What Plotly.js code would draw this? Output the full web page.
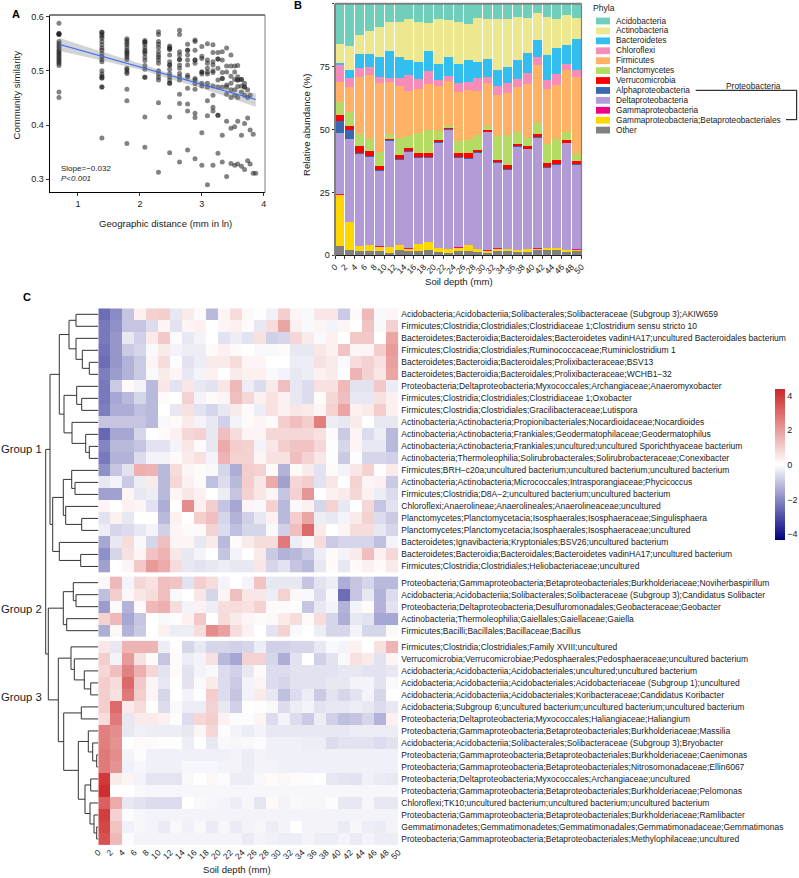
<!DOCTYPE html>
<html><head><meta charset="utf-8">
<script src="https://cdn.plot.ly/plotly-3.0.1.min.js"></script>
<style>html,body{margin:0;padding:0;background:#fff}#c{width:799px;height:878px}</style>
</head><body><div id="c"></div>
<script>
// ---------- Panel A data ----------
const distanceX=[0.693,1.386,1.79,2.08,2.30,2.48,2.64,2.77,2.89,3.0,3.09,3.18,3.26,3.33,3.40,3.47,3.53,3.58,3.64,3.69,3.74,3.78,3.83,3.87];
const similarityY=[
[.588,.569,.569,.567,.567,.554,.55,.546,.542,.538,.535,.532,.529,.526,.523,.52,.517,.514,.51,.461,.451],
[.571,.571,.567,.564,.56,.554,.548,.542,.538,.532,.526,.521,.517,.5,.494,.49,.487,.487,.47,.47,.376],
[.559,.556,.552,.548,.543,.538,.535,.532,.529,.525,.521,.505,.502,.498,.495,.466,.445,.366],
[.556,.553,.553,.549,.543,.538,.535,.532,.525,.519,.51,.503,.488,.488,.415,.359],
[.572,.567,.554,.549,.543,.535,.529,.525,.52,.514,.5,.494,.488,.483,.441,.313],
[.546,.543,.54,.54,.529,.517,.511,.511,.503,.495,.489,.483,.477,.477,.415,.349],
[.575,.567,.535,.529,.521,.521,.511,.505,.495,.489,.483,.457,.44,.332],
[.549,.538,.538,.529,.52,.511,.492,.488,.468,.439,.426,.354],
[.557,.554,.538,.52,.52,.514,.486,.483,.476,.466,.422,.414,.338],
[.545,.527,.523,.498,.498,.494,.477,.472,.386,.326],
[.55,.52,.514,.505,.498,.494,.477,.47,.445,.417,.29],
[.548,.534,.517,.511,.5,.497,.472,.455,.433,.426,.326],
[.534,.522,.522,.505,.483,.47,.418,.418,.348],
[.535,.52,.497,.486,.486,.47,.381,.332],
[.542,.509,.498,.474,.47,.457,.407,.305],
[.529,.509,.49,.477,.465,.451,.394,.329],
[.509,.498,.484,.465,.455,.397,.326],
[.51,.489,.483,.483,.471,.451,.407,.328],
[.484,.484,.472,.461,.381,.324],
[.477,.47,.47,.455,.403,.318],
[.465,.451,.413,.334],
[.455,.391,.328],
[.383,.311],
[.311]];
const fitX=[0.693,3.87];
const fitY=[.549,.447];
const bandX=[0.693,1.386,2.08,2.48,3.0,3.47,3.87];
const bandHi=[.561,.535,.511,.495,.481,.468,.458];
const bandLo=[.537,.519,.500,.485,.468,.450,.434];
// ---------- Panel B data: top edge of each stacked band, per bar ----------
const depthTicks=[0,2,4,6,8,10,12,14,16,18,20,22,24,26,28,30,32,34,36,38,40,42,44,46,48,50];
const barX=[1,3,5,7,9,11,13,15,17,19,21,23,25,27,29,31,33,35,37,39,41,43,45,47,49];
const topOther=[3.8,2.1,1.7,1.7,1.6,.9,2,1.9,1.7,2,1.3,.9,1.9,1.7,1.5,.9,1.7,1.7,1.3,1.5,2.3,2,2,1.3,1.6];
const topGammaBeta=[24,13.1,3.7,4.1,3.3,3.2,4.1,2.6,4.5,5.3,2.9,2.4,3,4,2.4,1.9,2.6,2.4,2.1,2.4,2.6,2.9,2.8,2,2.3];
const topGamma=[24.5,13.4,3.85,4.2,3.6,3.3,4.2,2.8,4.6,5.4,3,2.6,3.3,4.1,2.5,2,2.8,2.5,2.3,2.5,2.8,3,2.9,2.1,2.4];
const topDelta=[48.7,46.2,40.1,39.2,33.4,45.3,38,41.1,38.8,38.5,44.8,49.9,38.8,38.4,40.8,48.9,36.6,34,43,42.1,46.8,34.8,36,44.5,35.9];
const topAlpha=[53.4,49.8,40.8,39.6,33.8,45.7,38.3,41.3,39.2,38.9,45,50.2,39.1,38.7,41.1,49.1,37,34.3,43.4,42.4,47,35.2,36.3,44.8,36.2];
const topVerruco=[55.9,51.5,43.4,41.3,35.4,46.4,39.9,42.5,40.5,40.8,45.8,50.7,40.7,40.5,42,49.8,37.9,35.8,44.2,43.6,48.1,36.8,37.9,45.8,37.5];
const topPlancto=[61,57,48.2,46.4,41.1,48.2,46.8,47.5,48.7,49.8,49.3,51.5,45.6,46,47.7,51.4,47.5,47.8,49,46.8,52.7,44.4,46.4,49.1,40.4];
const topFirmi=[68.9,66.9,70.9,71.7,68.3,68.9,67.2,65.4,66.2,68.1,67.3,69.1,64.8,65.7,65.3,68.5,63.6,64.5,66.9,68.2,75.6,66.2,67.7,73.8,70.7];
const topChloro=[75.5,70.6,74.6,74.7,71,70.5,70.6,71.5,70.2,73.2,69.8,71.1,68.3,68.9,70.3,70.7,67.3,68.3,69.9,72.3,78.7,69.7,72.2,76,73.8];
const topBactero=[76.4,73.5,80.1,80.1,78.9,81.3,78.9,77.6,76.7,81.2,75.9,78.9,75.9,77.5,76.7,77.9,73.8,74.8,77.6,80.4,85.7,79.6,82.3,83.7,86];
const topActino=[84.1,83.2,87.5,89.1,90.9,92.6,92.8,93.9,92.8,92.5,93.8,93.5,92.8,91.9,94.2,94,93.9,93.9,94.7,94.3,96.3,94.8,93.9,95.6,94.4];
const topAcido=barX.map(()=>100);
const legendNames=["Acidobacteria","Actinobacteria","Bacteroidetes","Chloroflexi","Firmicutes","Planctomycetes","Verrucomicrobia","Alphaproteobacteria","Deltaproteobacteria","Gammaproteobacteria","Gammaproteobacteria;Betaproteobacteriales","Other"];
const legendColors=["#6FCFBB","#EDE88F","#33BEF0","#F78CB8","#FFB266","#B4DC64","#FF0000","#3A68AE","#B39BD8","#F0047F","#FFD700","#808080"];
// ---------- Panel C data ----------
const group1Labels=["Acidobacteria;Acidobacteriia;Solibacterales;Solibacteraceae (Subgroup 3);AKIW659","Firmicutes;Clostridia;Clostridiales;Clostridiaceae 1;Clostridium sensu stricto 10","Bacteroidetes;Bacteroidia;Bacteroidales;Bacteroidetes vadinHA17;uncultured Bacteroidales bacterium","Firmicutes;Clostridia;Clostridiales;Ruminococcaceae;Ruminiclostridium 1","Bacteroidetes;Bacteroidia;Bacteroidales;Prolixibacteraceae;BSV13","Bacteroidetes;Bacteroidia;Bacteroidales;Prolixibacteraceae;WCHB1\u221232","Proteobacteria;Deltaproteobacteria;Myxococcales;Archangiaceae;Anaeromyxobacter","Firmicutes;Clostridia;Clostridiales;Clostridiaceae 1;Oxobacter","Firmicutes;Clostridia;Clostridiales;Gracilibacteraceae;Lutispora","Actinobacteria;Actinobacteria;Propionibacteriales;Nocardioidaceae;Nocardioides","Actinobacteria;Actinobacteria;Frankiales;Geodermatophilaceae;Geodermatophilus","Actinobacteria;Actinobacteria;Frankiales;uncultured;uncultured Sporichthyaceae bacterium","Actinobacteria;Thermoleophilia;Solirubrobacterales;Solirubrobacteraceae;Conexibacter","Firmicutes;BRH\u2212c20a;uncultured bacterium;uncultured bacterium;uncultured bacterium","Actinobacteria;Actinobacteria;Micrococcales;Intrasporangiaceae;Phycicoccus","Firmicutes;Clostridia;D8A\u22122;uncultured bacterium;uncultured bacterium","Chloroflexi;Anaerolineae;Anaerolineales;Anaerolineaceae;uncultured","Planctomycetes;Planctomycetacia;Isosphaerales;Isosphaeraceae;Singulisphaera","Planctomycetes;Planctomycetacia;Isosphaerales;Isosphaeraceae;uncultured","Bacteroidetes;Ignavibacteria;Kryptoniales;BSV26;uncultured bacterium","Bacteroidetes;Bacteroidia;Bacteroidales;Bacteroidetes vadinHA17;uncultured bacterium","Firmicutes;Clostridia;Clostridiales;Heliobacteriaceae;uncultured"];
const group2Labels=["Proteobacteria;Gammaproteobacteria;Betaproteobacteriales;Burkholderiaceae;Noviherbaspirillum","Acidobacteria;Acidobacteriia;Solibacterales;Solibacteraceae (Subgroup 3);Candidatus Solibacter","Proteobacteria;Deltaproteobacteria;Desulfuromonadales;Geobacteraceae;Geobacter","Actinobacteria;Thermoleophilia;Gaiellales;Gaiellaceae;Gaiella","Firmicutes;Bacilli;Bacillales;Bacillaceae;Bacillus"];
const group3Labels=["Firmicutes;Clostridia;Clostridiales;Family XVIII;uncultured","Verrucomicrobia;Verrucomicrobiae;Pedosphaerales;Pedosphaeraceae;uncultured bacterium","Acidobacteria;Acidobacteriia;Acidobacteriales;uncultured;uncultured bacterium","Acidobacteria;Acidobacteriia;Acidobacteriales;Acidobacteriaceae (Subgroup 1);uncultured","Acidobacteria;Acidobacteriia;Acidobacteriales;Koribacteraceae;Candidatus Koribacter","Acidobacteria;Subgroup 6;uncultured bacterium;uncultured bacterium;uncultured bacterium","Proteobacteria;Deltaproteobacteria;Myxococcales;Haliangiaceae;Haliangium","Proteobacteria;Gammaproteobacteria;Betaproteobacteriales;Burkholderiaceae;Massilia","Acidobacteria;Acidobacteriia;Solibacterales;Solibacteraceae (Subgroup 3);Bryobacter","Proteobacteria;Gammaproteobacteria;Betaproteobacteriales;Burkholderiaceae;Caenimonas","Proteobacteria;Gammaproteobacteria;Betaproteobacteriales;Nitrosomonadaceae;Ellin6067","Proteobacteria;Deltaproteobacteria;Myxococcales;Archangiaceae;uncultured","Proteobacteria;Gammaproteobacteria;Betaproteobacteriales;Burkholderiaceae;Pelomonas","Chloroflexi;TK10;uncultured bacterium;uncultured bacterium;uncultured bacterium","Proteobacteria;Gammaproteobacteria;Betaproteobacteriales;Burkholderiaceae;Ramlibacter","Gemmatimonadetes;Gemmatimonadetes;Gemmatimonadales;Gemmatimonadaceae;Gemmatimonas","Proteobacteria;Gammaproteobacteria;Betaproteobacteriales;Methylophilaceae;uncultured"];
const group1Z=[
[-2.5,-2,-1,.3,.9,1,-.4,.4,.1,-1.2,.2,.7,.15,.05,-.25,1,.2,-.1,.5,.5,-.9,.1,1.4,-.1,.2],
[-2.3,-1.9,-1,-1,-.6,.2,-.5,.2,.3,0,.2,.3,.1,-.4,.7,1.8,.3,-.1,.2,-.2,.2,0,1.2,-.1,.9],
[-2.3,-1.8,-.4,-.8,.4,1.1,.1,-.4,-.2,0,-.5,-.3,-.5,.6,-.8,-.7,.8,.4,-.1,.3,0,1.1,1.1,0,1.8],
[-2.4,-1.8,-.9,-.7,-.1,.4,-.2,-.3,-.3,.1,.3,.1,0,-.1,-.1,.1,-.4,-.4,.5,.3,1.2,.2,.2,1.0,2.0],
[-2.5,-1.8,-1.3,-.9,.2,.7,.05,-.5,-.3,.4,.4,.7,.2,.2,0,0,-.3,-.3,.6,.4,-.1,.7,.9,.6,1.9],
[-2.2,-1.7,-1.3,-.9,-.1,.4,.2,-.4,-.2,.3,0,.4,.3,.3,-.1,-.2,-.4,-.3,.3,.4,0,1.5,.9,.5,1.8],
[-2.3,-.9,.1,-.2,-1.2,.5,-.5,.5,-.4,-.5,.5,1.4,-.3,-.6,.4,1.3,-.4,-.6,.6,.6,1.4,-.5,-.5,1.1,-.3],
[-2.3,-1.5,-1.2,-.7,-1.2,.1,0,.9,-.2,.1,.2,1.3,.8,.3,.6,.3,-.4,-.6,.1,.8,1.3,-.4,-.4,.6,.3],
[-2.2,-1.4,-1.4,-1.1,-1.2,0,-.4,.6,-.5,-.7,-.4,.4,.1,-.3,.6,.3,.5,.4,.2,.9,1.8,.3,.4,1,.3],
[-1,-1,-1,-1,-1.2,-.1,.1,.4,-.2,-.4,-.8,-.2,.1,.2,.1,1,1.3,1,2.6,-.3,-.4,.4,0,-.4,-.4],
[-2.6,-1.5,-1.5,-.7,0,.1,.3,.8,.9,-.4,1.3,.7,.2,.2,.8,.8,.8,.8,.6,.1,-.9,.2,-.6,-.3,-1.2],
[-2.1,-1.2,-1.2,-1,-.5,-.5,-.2,.5,.1,-.4,1.7,1,.9,-.2,.5,1,1.2,1.2,.8,.05,-.7,.2,-.4,-.4,-1.2],
[-2.3,-1.3,-1.3,-.6,-.2,-.2,.1,.4,.6,-.2,1.5,.9,.9,.2,.6,.6,1.3,.9,.5,.05,-.9,.05,-.7,-.7,-.8],
[-1.9,-1,-.5,1.6,1.5,-1.2,.7,.2,.1,-.1,-.7,-1.4,1,.9,.1,-1.3,.1,.4,-.5,.1,-.2,.5,.9,.05,.4],
[-.4,-.2,-.9,-.3,.4,-1.2,.8,.3,.1,-1.1,-.6,-1.2,1,.5,1.7,-1.6,.8,1,-.5,.5,.05,.9,.2,.3,-.9],
[-1.6,-1.6,.2,-.4,-.3,-1.2,.2,.5,.3,0,-.3,-1,.9,.5,.2,-1,.9,2.1,0,.3,.4,.8,.3,-.3,-.6],
[.2,0,.3,.2,-.5,-1.4,0,2.3,.3,1,-1,-1.5,.2,-.1,.9,-1.2,-.1,.3,-.7,.9,-.4,0,.8,-1,-.5],
[-.5,.3,-.4,0,0,-1.2,.3,0,1,1.3,-.7,-1.3,-.8,-.4,.3,-1.2,1,1.8,-.3,-.4,-.2,.4,.9,-.6,-.9],
[-.3,-.7,-.6,-.4,-.2,-.8,.2,.1,.1,.9,-.6,-1.1,-.7,-.7,-.1,-.8,1.3,3,.4,0,.2,.7,.7,-.4,-.7],
[-1.5,-.4,.7,-.1,-.7,1.3,.2,.2,-.4,.4,-1.2,.1,.4,.7,.7,2.7,-.3,-.1,.7,-.9,-.7,-.7,-.7,-1.1,-.2],
[-1.9,-.7,.6,.2,1.2,1.5,.5,-.4,-.2,0,-1,-.2,0,.4,-.9,-1.3,-1.2,-.9,-.3,.1,-.2,.4,1.3,.3,.8],
[-1.6,0,.2,1.1,2,1.7,.7,-.4,-.5,-.4,-.3,-.4,-.4,.5,-.7,-.5,-1,-1.2,-.4,.1,-.4,.1,.3,.1,.4]];
const group2Z=[
[.15,1.4,-.2,.8,.6,1.3,1.2,-.5,1,.7,-.2,0,-.2,1.2,-.4,-.4,-.4,-1,-.5,-.3,-1.4,-1,-.7,-1.2,-1.2],
[-1.1,1,.15,.5,.7,1.3,-.1,0,.5,-.7,.2,1.3,.5,.5,-.3,.9,.15,-.1,-.6,-.1,-2.5,-1,-.4,-1.3,-.6],
[-1.7,.1,-1.3,.1,1.4,1.6,.7,-.2,.3,-.3,.7,.7,.6,.9,.1,.1,.05,-1,-.4,-.2,-1.3,-.2,.1,-1.3,-.5],
[.9,1.4,-1.5,-1,0,-.1,-.05,.3,1.1,0,.7,.4,.2,.1,.15,.4,.7,.1,.7,-.7,-1.4,-.4,-.5,-1.5,-1.5],
[-1.4,.15,-1.3,-.9,0,.3,-.3,-.3,.7,2.3,1.9,.7,.3,0,-.5,.9,-.1,0,-.3,-.7,-.7,-.2,-.7,-.7,.15]];
const group3Z=[
[.5,-.4,1.5,1.5,1.5,-.3,.05,-.7,-.4,-.7,-.7,-.8,-.7,-.3,-.8,-.8,-.7,-.7,-.4,-.1,-.2,.3,0,.6,1.5],
[1,-.2,2,.6,.1,-1,.1,-.3,-.2,.6,-1.2,-1.5,.9,.9,-.7,-1.4,-.5,0,-.8,-.5,-.1,.6,.4,-.5,.2],
[.8,1.3,2.5,1.6,.8,-.5,.1,-.5,-.2,-.1,-.6,-.8,-.4,.1,-.6,-.6,-.5,-.5,-.5,-.5,-.4,-.4,-.5,-.5,-.4],
[1,.7,3,1.1,.2,-.4,0,-.5,-.1,.4,-.6,-.9,-.2,.2,-.6,-.7,-.5,-.5,-.5,-.4,-.4,-.2,-.2,-.5,-.1],
[1,.6,2.7,1,.2,-.7,0,-.2,0,1,-.6,-1,-.2,.4,-.4,-1.1,-.6,-.3,-.9,-.5,-.7,-.5,-.2,-.7,0],
[1,3,.4,.7,0,-.6,-.1,-.3,-.3,.9,-.4,-.8,0,.05,-.1,-.6,-.3,-.2,-.5,-.4,-.4,-.3,-.4,-.6,-.4],
[.7,2.7,-.4,.4,.4,.3,.05,-.6,.8,1,.3,-.05,-.05,.2,-.6,-.2,-.6,-.9,-.3,-.8,-1.1,-1,-.7,-1.3,.3],
[2.6,2.3,-.4,-.25,-.3,-.3,-.3,-.4,.2,.8,.05,-.2,-.3,-.2,-.4,-.4,-.4,-.4,-.4,-.4,-.4,-.3,-.3,-.3,-.3],
[2.6,2.2,.02,.1,.1,.05,.05,-.3,0,-.4,-.1,-.15,-.1,-.05,-.25,-.25,-.25,-.3,-.3,-.6,-.5,-.5,-.5,-.6,-.5],
[2.7,2.3,-.2,-.05,-.25,-.25,-.25,-.25,-.25,-.25,-.25,-.2,-.3,-.2,-.25,-.25,-.25,-.25,-.25,-.25,-.25,-.25,-.25,-.25,-.25],
[2.7,2.2,-.25,-.15,-.25,-.25,-.25,-.15,-.15,-.15,-.2,-.2,-.3,-.2,-.2,-.25,-.25,-.25,-.25,-.25,-.25,-.25,-.25,-.25,-.25],
[4,.4,.25,-.2,-.45,-.45,-.45,-.1,0,.15,-.05,-.3,-.3,-.1,.1,.15,.1,-.05,0,-.4,-.45,-.5,-.25,-.35,-.4],
[4.2,0,0,-.1,-.15,-.15,-.15,-.15,-.15,-.15,-.15,-.15,-.15,-.15,-.15,-.15,-.15,-.15,-.15,-.15,-.15,-.15,-.15,-.15,-.15],
[3.2,1.7,-.4,-.5,-.6,-.6,-.6,0,-.1,-.15,-.2,-.3,-.15,-.45,.1,-.2,-.1,-.15,-.15,-.05,-.4,-.4,-.15,-.4,-.4],
[3.9,.9,-.05,-.15,-.2,-.2,-.2,-.2,-.2,-.2,-.2,-.2,-.2,-.2,-.2,-.2,-.2,-.2,-.2,-.2,-.2,-.2,-.2,-.2,-.2],
[3.7,1.2,-.25,-.15,-.2,-.35,-.1,-.25,-.1,-.35,-.15,-.35,-.2,-.15,-.3,-.2,0,-.2,-.2,-.2,-.35,-.15,-.3,-.35,-.2],
[3.5,1.4,-.05,-.2,-.2,-.2,-.2,-.2,-.2,-.2,-.2,-.2,-.35,-.2,-.25,-.3,-.3,-.2,-.3,-.3,-.2,-.35,-.2,-.3,-.3]];
// Dendrogram: [merge height, left child, right child]; 0 = next leaf row in order
const dendroTree=[52.6,
 [48.3,
  [39,[29.3,[22.3,0,0],[22.3,0,[16,0,[9,0,0]]]],
      [34.3,[21.6,0,[16.6,0,0]],[26.3,0,[12.6,0,[9,0,0]]]]],
  [45.6,[35,[26.6,0,[23.3,0,0]],[32.6,0,[16.6,0,0]]],[39,0,[17.6,0,0]]]],
 [50,
  [35,[25,0,[22.3,0,0]],[31.6,0,0]],
  [40,[27.3,0,[24,0,[14,0,[7.6,0,0]]]],
      [34.6,[17,0,0],[20,[10,0,[5.6,0,[1.6,0,0]]],[13.3,[7.6,0,0],[8.3,0,[4.3,0,[1.6,0,0]]]]]]]]];
const heatMax=4.36;
const colorTicks=[-4,-2,0,2,4];
const colorTickText=["\u22124","\u22122","0","2","4"];

// ---------- helpers ----------
const W=799,H=878, FONT='"Liberation Sans",Arial,sans-serif', INK='#1a1a1a';
const px=v=>v/W, py=v=>1-v/H;
const diff=(a,b)=>a.map((v,i)=>+(v-(b?b[i]:0)).toFixed(2));
const ann=(x,y,text,o={})=>Object.assign({xref:'paper',yref:'paper',x:px(x),y:py(y),text,showarrow:false,xanchor:'left',yanchor:'middle',borderpad:0,borderwidth:0,font:{family:FONT,size:8.5,color:INK}},o);
const seg=(x0,y0,x1,y1,color='#000',width=1)=>({type:'line',xref:'paper',yref:'paper',x0:px(x0),x1:px(x1),y0:py(y0),y1:py(y1),line:{color,width},layer:'above'});

const traces=[];
// --- Panel A
traces.push({type:'scatter',mode:'markers',xaxis:'x',yaxis:'y',showlegend:false,
  x:distanceX.flatMap((d,i)=>similarityY[i].map(()=>d)),y:similarityY.flat(),
  marker:{size:5,color:'rgba(30,30,30,0.55)',line:{width:0}}});
traces.push({type:'scatter',mode:'lines',xaxis:'x',yaxis:'y',showlegend:false,
  x:bandX.concat(bandX.slice().reverse()),y:bandHi.concat(bandLo.slice().reverse()),
  fill:'toself',fillcolor:'rgba(120,120,120,0.33)',line:{width:0}});
traces.push({type:'scatter',mode:'lines',xaxis:'x',yaxis:'y',showlegend:false,x:fitX,y:fitY,line:{color:'#3366FF',width:1.1}});
// --- Panel B (stack bottom to top)
const stack=[[topOther,null,11],[topGammaBeta,topOther,10],[topGamma,topGammaBeta,9],[topDelta,topGamma,8],[topAlpha,topDelta,7],[topVerruco,topAlpha,6],[topPlancto,topVerruco,5],[topFirmi,topPlancto,4],[topChloro,topFirmi,3],[topBactero,topChloro,2],[topActino,topBactero,1],[topAcido,topActino,0]];
stack.forEach(([t,b,k])=>traces.push({type:'bar',xaxis:'x2',yaxis:'y2',x:barX,y:diff(t,b),name:legendNames[k],marker:{color:legendColors[k],line:{width:0}},showlegend:false}));
// --- Panel C
const gap=0.35;
const rowY=[];
[group1Z,group2Z,group3Z].reduce((off,g)=>{g.forEach((_,i)=>rowY.push(off+i+.5));return off+g.length+gap;},0);
const allLabels=group1Labels.concat(group2Labels,group3Labels);
let start=0;
[group1Z,group2Z,group3Z].forEach(g=>{
  traces.push({type:'heatmap',xaxis:'x3',yaxis:'y3',x:barX,y:rowY.slice(start,start+g.length),z:g,coloraxis:'coloraxis',hoverongaps:false,xgap:0,ygap:0});
  start+=g.length;
});
// dendrogram
const dx=[],dy=[];let leaf=0;
function walk(n){
  if(n===0){return {h:0,p:rowY[leaf++]};}
  const a=walk(n[1]),b=walk(n[2]);
  dx.push(a.h,n[0],n[0],b.h,null);dy.push(a.p,a.p,b.p,b.p,null);
  return {h:n[0],p:(a.p+b.p)/2};
}
walk(dendroTree);
traces.push({type:'scatter',mode:'lines',xaxis:'x4',yaxis:'y3',x:dx,y:dy,showlegend:false,line:{color:'#333',width:1},connectgaps:false});

const tickF={family:FONT,size:9,color:INK};
const tickR={family:FONT,size:8.5,color:INK};
const titleF={family:FONT,size:9.6,color:INK};
const layout={
  width:W,height:H,margin:{l:0,r:0,t:0,b:0},paper_bgcolor:'#fff',plot_bgcolor:'#fff',showlegend:false,barmode:'stack',bargap:0.09,
  font:{family:FONT,color:INK},
  xaxis:{domain:[px(49.5),px(265)],anchor:'y',range:[0.54,4.02],tickvals:[1,2,3,4],ticks:'outside',ticklen:3,tickwidth:1,tickcolor:'#333',tickfont:tickF,showgrid:false,zeroline:false,showline:true,linecolor:'#000',linewidth:1},
  yaxis:{domain:[py(192.3),py(15)],anchor:'x',range:[0.276,0.603],tickvals:[.3,.4,.5,.6],ticktext:['0.3','0.4','0.5','0.6'],ticks:'outside',ticklen:3,tickwidth:1,tickcolor:'#333',tickfont:tickF,showgrid:false,zeroline:false,showline:true,linecolor:'#000',linewidth:1},
  xaxis2:{domain:[px(335),px(581.5)],anchor:'y2',range:[0,50],tickvals:depthTicks,ticktext:depthTicks.map(String),tickangle:-45,ticks:'outside',ticklen:2.5,tickcolor:'#333',tickfont:tickR,showgrid:false,zeroline:false,showline:true,linecolor:'#222',linewidth:1},
  yaxis2:{domain:[py(255.3),py(3.7)],anchor:'x2',range:[0,100],tickvals:[0,25,50,75,100],ticks:'outside',ticklen:2.5,tickcolor:'#333',tickfont:tickF,showgrid:false,zeroline:false},
  xaxis3:{domain:[px(98.3),px(398.3)],anchor:'y3',range:[0,50],tickvals:depthTicks,ticktext:depthTicks.map(String),tickangle:-45,ticks:'',tickfont:tickR,showgrid:false,zeroline:false,showline:false},
  yaxis3:{domain:[py(845),py(308.3)],anchor:'x3',side:'right',range:[rowY[rowY.length-1]+.5,0],tickvals:rowY,ticktext:allLabels,ticks:'',ticklabelstandoff:2,tickfont:{family:FONT,size:8.5,color:INK},showgrid:false,zeroline:false,showline:false},
  xaxis4:{domain:[px(44),px(98.3)],anchor:'y3',range:[54.3,0],visible:false},
  coloraxis:{cmin:-heatMax,cmax:heatMax,colorscale:[[0,'#000080'],[.5,'#FFFFFF'],[1,'#CD2626']],
    colorbar:{x:px(775),xanchor:'left',xpad:0,y:py(389.3),yanchor:'top',ypad:0,lenmode:'pixels',len:150.7,thicknessmode:'pixels',thickness:10,outlinewidth:0,tickvals:colorTicks,ticktext:colorTickText,ticks:'',tickfont:{family:FONT,size:9,color:INK}}},
  shapes:[seg(49.5,15,265,15,'#808080',2),seg(265,15,265,192.3,'#808080',1),
    seg(335,3.7,581.5,3.7,'#808080',2),seg(335,3.7,335,255.8,'#808080',2),seg(581.5,3.7,581.5,255.3,'#808080',1.2),
    seg(695.7,90.3,796.7,90.3),seg(796.7,90.3,796.7,119.7),seg(796.7,119.7,786,119.7)],
  annotations:[
    ann(165,224,'Geographic distance (mm in ln)',{xanchor:'center',font:titleF}),
    ann(16,95.5,'Community similarity',{xanchor:'center',textangle:-90,font:titleF}),
    ann(306,125,'Relative abundance (%)',{xanchor:'center',textangle:-90,font:titleF}),
    ann(459,281,'Soil depth (mm)',{xanchor:'center',font:titleF}),
    ann(237,869,'Soil depth (mm)',{xanchor:'center',font:titleF}),
    ann(11.5,14,'<b>A</b>',{font:{family:FONT,size:11,color:'#000'}}),
    ann(294,5,'<b>B</b>',{font:{family:FONT,size:11,color:'#000'}}),
    ann(23,297,'<b>C</b>',{font:{family:FONT,size:11,color:'#000'}}),
    ann(61,168,'Slope=\u22120.032',{font:{family:FONT,size:8,color:INK}}),
    ann(61,179,'<i>P&lt;0.001</i>',{font:{family:FONT,size:8,color:INK}}),
    ann(592.7,8,'Phyla',{font:{family:FONT,size:8.6,color:INK}}),
    ann(753,85.7,'Proteobacteria',{xanchor:'center',font:{family:FONT,size:8.4,color:INK}}),
    ann(0.5,449,'Group 1',{font:{family:FONT,size:11.3,color:INK}}),
    ann(0.5,609,'Group 2',{font:{family:FONT,size:11.3,color:INK}}),
    ann(0.5,697,'Group 3',{font:{family:FONT,size:11.3,color:INK}})
  ]
};
// legend swatches and labels, drawn row by row
legendNames.forEach((n,i)=>{
  const yc=21+i*9.92;
  layout.shapes.push({type:'rect',xref:'paper',yref:'paper',x0:px(596),x1:px(610),y0:py(yc+3.4),y1:py(yc-3.4),fillcolor:legendColors[i],line:{width:0}});
  layout.annotations.push(ann(615.7,yc,n,{font:{family:FONT,size:8.25,color:INK}}));
});
Plotly.newPlot('c',traces,layout,{staticPlot:true,displayModeBar:false});
</script></body></html>
